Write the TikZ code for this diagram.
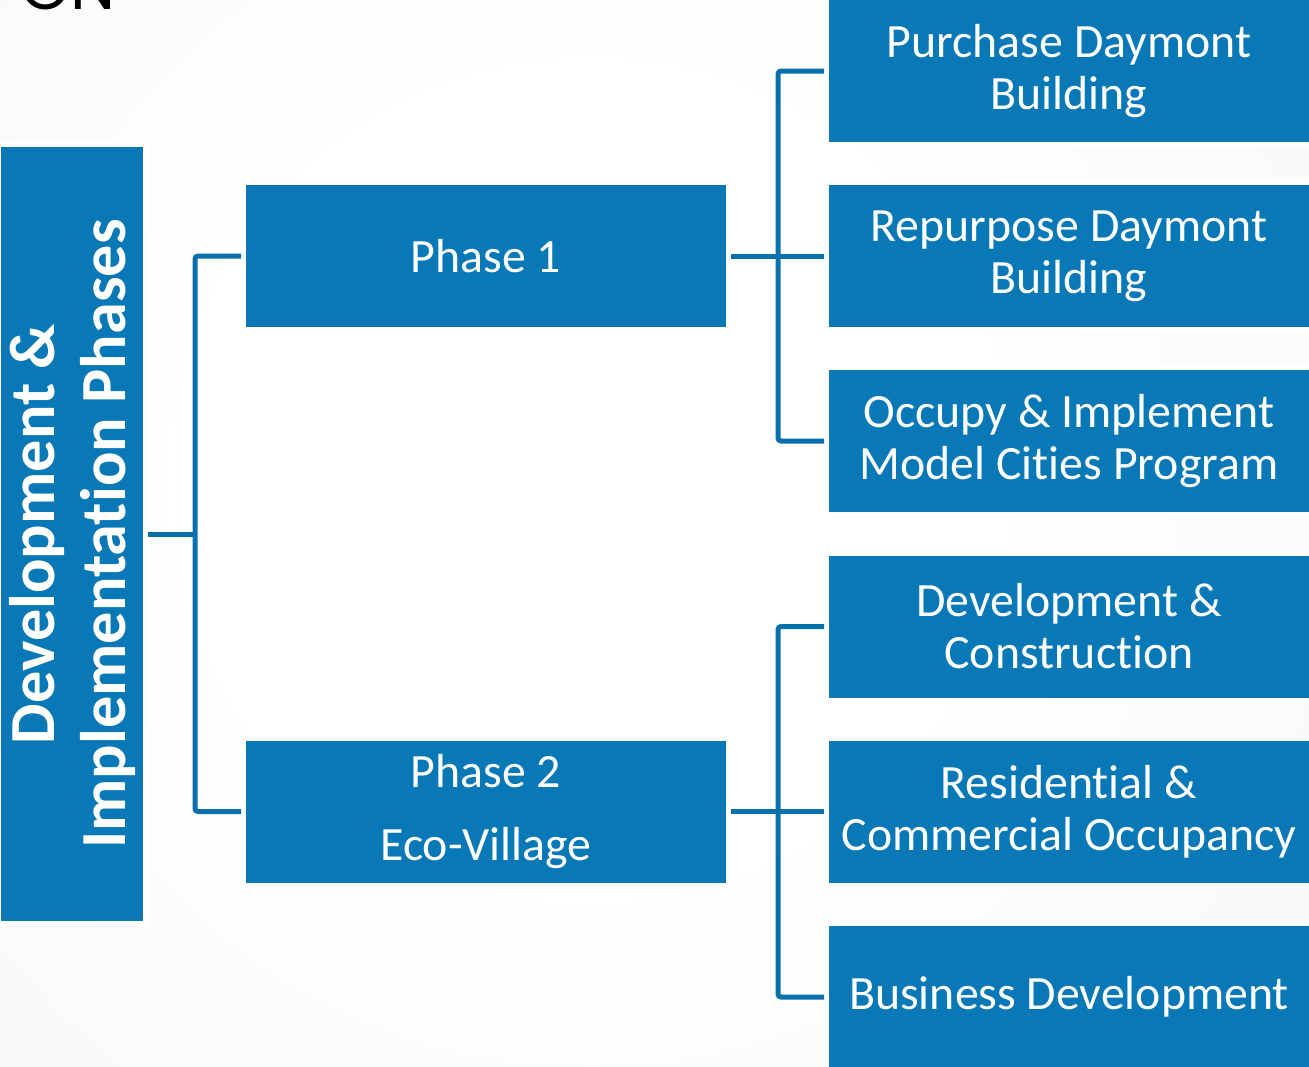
\documentclass[tikz,border=0pt]{standalone}
\usepackage{fontspec}
\setmainfont{Carlito}[Ligatures=NoCommon]
\newfontfamily\titlefont{Poppins}
\definecolor{boxblue}{RGB}{8,120,182}
\definecolor{lineblue}{RGB}{8,112,172}
\definecolor{bggray}{RGB}{236,236,236}
\pgfdeclareradialshading{bgshade}{\pgfpoint{0bp}{0bp}}{color(0bp)=(white); color(10bp)=(white); color(50bp)=(bggray)}
\tikzset{
  bluebox/.style={draw=white, line width=5pt, fill=boxblue, text=white,
    inner sep=0pt, outer sep=2.5pt, align=center,
    minimum width=485pt, minimum height=147pt,
    font=\fontsize{47.8}{52}\selectfont},
  conn/.style={draw=lineblue, line width=5pt, rounded corners=3pt}
}
\begin{document}
\begin{tikzpicture}[x=1pt,y=-1pt]
\useasboundingbox (0,0) rectangle (1309,1066);
\fill[bggray] (0,0) rectangle (1309,1066);
\shade[shading=bgshade] (590,480) circle (960);

\node[anchor=base east, inner sep=0pt, text=black,
  font=\titlefont\fontsize{64}{64}\selectfont] (title) at (116,9) {ON};

\node[bluebox, minimum width=779pt, minimum height=147pt, rotate=90,
  font=\bfseries\fontsize{64.3}{71}\selectfont] (dev) at (72,534)
  {Development \&\\Implementation Phases};

\node[bluebox] (p1) at (486,256) {Phase 1};
\node[bluebox] (p2) at (486,811.5) {Phase 2\\[21pt]Eco-Village};

\node[bluebox] (b1) at (1069,71) {Purchase Daymont\\Building};
\node[bluebox] (b2) at (1069,256) {Repurpose Daymont\\Building};
\node[bluebox] (b3) at (1069,441) {Occupy \& Implement\\Model Cities Program};
\node[bluebox] (b4) at (1069,626.5) {Development \&\\Construction};
\node[bluebox] (b5) at (1069,811.5) {Residential \&\\Commercial Occupancy};
\node[bluebox] (b6) at (1069,997) {Business Development};

\coordinate (jl) at (195,534);
\coordinate (j1) at (778,256);
\coordinate (j2) at (778,811.5);

\draw[conn] (dev.south) -- (jl);
\draw[conn] (jl) |- (p1.west);
\draw[conn] (jl) |- (p2.west);

\draw[conn] (p1.east) -- (b2.west);
\draw[conn] (j1) |- (b1.west);
\draw[conn] (j1) |- (b3.west);

\draw[conn] (p2.east) -- (b5.west);
\draw[conn] (j2) |- (b4.west);
\draw[conn] (j2) |- (b6.west);
\end{tikzpicture}
\end{document}
